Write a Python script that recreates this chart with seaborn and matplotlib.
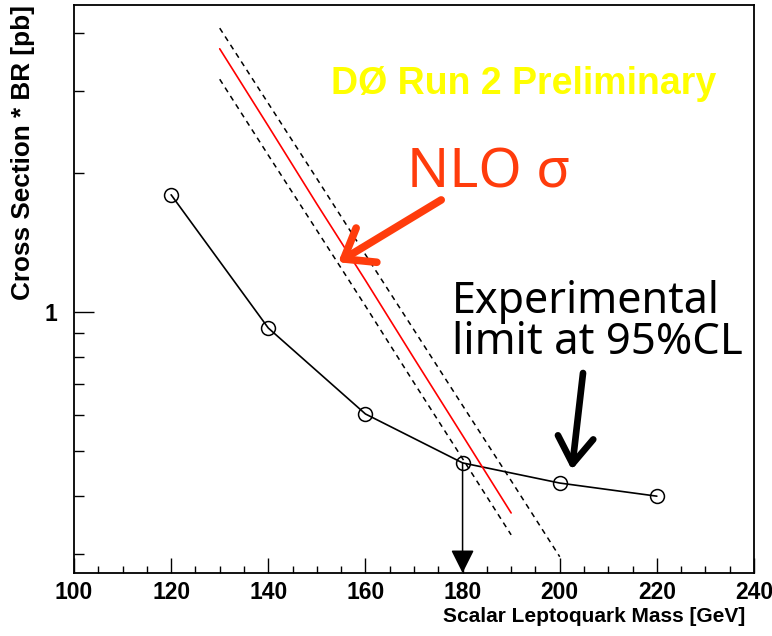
import numpy as np
import pandas as pd
import matplotlib
matplotlib.use("Agg")
import matplotlib.pyplot as plt
import seaborn as sns
from matplotlib.ticker import MultipleLocator, FixedLocator, NullFormatter, FixedFormatter

# experimental 95% CL limit
mass = [120, 140, 160, 180, 200, 220]
limit = [1.79, 0.923, 0.602, 0.472, 0.427, 0.400]

# NLO cross section (central, upper and lower uncertainty)
nlo_mass = [130, 140, 150, 160, 170, 180, 190]
nlo_central = [3.70, 2.52, 1.71, 1.17, 0.794, 0.541, 0.368]
nlo_up_mass = [130, 140, 150, 160, 170, 180, 190, 200]
nlo_upper = [4.10, 2.82, 1.94, 1.33, 0.914, 0.628, 0.432, 0.296]
nlo_lower = [3.18, 2.18, 1.50, 1.03, 0.703, 0.482, 0.330]

mass_limit = 180

sns.set_style("white")
plt.rcParams["text.color"] = "black"
plt.rcParams["axes.labelcolor"] = "black"
plt.rcParams["xtick.color"] = "black"
plt.rcParams["ytick.color"] = "black"
bold = ["Liberation Sans", "DejaVu Sans"]
hand = ["Noto Sans", "DejaVu Sans"]

fig = plt.figure(figsize=(7.72, 6.36), dpi=100)
ax = fig.add_axes([74 / 772, 1 - 573 / 636, 680 / 772, 568 / 636])

lim_df = pd.DataFrame({"mass": mass, "limit": limit})
sns.lineplot(data=lim_df, x="mass", y="limit", ax=ax, color="black", lw=1.2,
             marker="o", markersize=10, markerfacecolor="none",
             markeredgecolor="black", markeredgewidth=1.1)

sns.lineplot(x=nlo_mass, y=nlo_central, ax=ax, color="red", lw=1.2)
sns.lineplot(x=nlo_up_mass, y=nlo_upper, ax=ax, color="black", lw=1.1,
             linestyle=(0, (3.5, 3)))
sns.lineplot(x=nlo_mass, y=nlo_lower, ax=ax, color="black", lw=1.1,
             linestyle=(0, (3.5, 3)))

ax.set_yscale("log")
ax.set_xlim(100, 240)
ax.set_ylim(0.273, 4.6)

# arrow down to the mass limit
ax.annotate("", xy=(mass_limit, 0.273), xytext=(mass_limit, limit[3]),
            arrowprops=dict(arrowstyle="-|>,head_length=1.0,head_width=0.5",
                            mutation_scale=14.4, color="black", lw=1.1,
                            shrinkA=0, shrinkB=0))

# annotations
ax.annotate("", xy=(154.4, 1.28), xytext=(175.6, 1.745),
            arrowprops=dict(arrowstyle="->,head_length=0.6,head_width=0.45",
                            mutation_scale=32, color="#ff3c0c", lw=5.5,
                            shrinkA=0, shrinkB=0, capstyle="round"))
ax.annotate("", xy=(202.5, 0.456), xytext=(204.8, 0.738),
            arrowprops=dict(arrowstyle="->,head_length=0.6,head_width=0.4",
                            mutation_scale=32, color="black", lw=4.8,
                            shrinkA=0, shrinkB=0, capstyle="round"))

fig.text(524 / 772, 1 - 94 / 636, "DØ Run 2 Preliminary", color="#ffff00",
         fontsize=27, fontweight="bold", family=bold, ha="center",
         va="baseline")
fig.text(407 / 772, 1 - 188 / 636, "NLO σ", color="#ff3c0c", fontsize=40,
         family=hand, ha="left", va="baseline")
fig.text(452 / 772, 1 - 313 / 636, "Experimental", color="black",
         fontsize=31, family=hand, ha="left", va="baseline")
fig.text(452 / 772, 1 - 354 / 636, "limit at 95%CL", color="black",
         fontsize=31.5, family=hand, ha="left", va="baseline")

# axes styling
ax.xaxis.set_major_locator(MultipleLocator(20))
ax.xaxis.set_minor_locator(MultipleLocator(5))
ax.yaxis.set_major_locator(FixedLocator([1]))
ax.yaxis.set_major_formatter(FixedFormatter(["1"]))
ax.yaxis.set_minor_locator(FixedLocator([0.3, 0.4, 0.5, 0.6, 0.7, 0.8, 0.9, 2, 3, 4]))
ax.yaxis.set_minor_formatter(NullFormatter())

ax.tick_params(axis="both", which="both", bottom=True, left=True,
               top=False, right=False, color="black")
ax.tick_params(axis="x", which="major", direction="in", length=10.8, width=1,
               pad=6, labelsize=16.5)
ax.tick_params(axis="x", which="minor", direction="in", length=5, width=1)
ax.tick_params(axis="y", which="major", direction="in", length=14.4, width=1,
               pad=12, labelsize=16.5)
ax.tick_params(axis="y", which="minor", direction="in", length=7.2, width=1)
for lab in ax.get_xticklabels() + ax.get_yticklabels():
    lab.set_fontfamily(bold)
    lab.set_fontweight("bold")

for sp in ax.spines.values():
    sp.set_linewidth(1.3)
    sp.set_color("black")

ax.set_xlabel("Scalar Leptoquark Mass [GeV]", fontsize=15, fontweight="bold",
              family=bold, loc="right")
ax.set_ylabel("Cross Section * BR [pb]", fontsize=18.8, fontweight="bold",
              family=bold, loc="top")
ax.xaxis.set_label_coords(0.987, -0.06)
ax.yaxis.set_label_coords(-0.057, 1.0)

fig.savefig("out.png", dpi=100)
